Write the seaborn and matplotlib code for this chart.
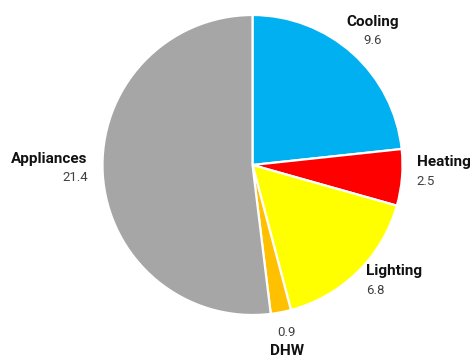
import numpy as np
import matplotlib
matplotlib.use("Agg")
import matplotlib.pyplot as plt
import seaborn as sns

# Annual end-use breakdown
categories = ["Cooling", "Heating", "Lighting", "DHW", "Appliances"]
values = [9.6, 2.5, 6.8, 0.9, 21.4]
value_labels = ["9.6", "2.5", "6.8", "0.9", "21.4"]
colors = ["#00B0F0", "#FF0000", "#FFFF00", "#FFC000", "#A6A6A6"]

sns.set_theme(style="white")
plt.rcParams["font.family"] = ["Roboto", "DejaVu Sans"]

fig = plt.figure(figsize=(4.73, 3.6), dpi=100)
# pie centred at (252.5, 165) px with radius 150 px
cx, cy, r = 252.5, 165.0, 150.0
W, H = 473.0, 360.0
ax = fig.add_axes([(cx - r) / W, (H - cy - r) / H, 2 * r / W, 2 * r / H])

wedges, _ = ax.pie(
    values,
    colors=colors,
    startangle=90,
    counterclock=False,
    radius=1.0,
    wedgeprops=dict(edgecolor="white", linewidth=1.6),
)
ax.set_xlim(-1, 1)
ax.set_ylim(-1, 1)
ax.set_aspect("equal")
ax.axis("off")

# label placement: radial distance, horizontal alignment, value above name?, vertical nudge
layout = {
    "Cooling": (1.2, "center", False, 0.0),
    "Heating": (1.1, "left", False, 0.045),
    "Lighting": (1.08, "left", False, 0.0),
    "DHW": (1.2, "center", True, 0.0),
    "Appliances": (1.1, "right", False, 0.045),
}

line = 0.064  # half spacing between the two lines, data units
for w, name, vlab in zip(wedges, categories, value_labels):
    ang = np.deg2rad((w.theta1 + w.theta2) / 2)
    rad, ha, value_first, nudge = layout[name]
    x, y = rad * np.cos(ang), rad * np.sin(ang) + nudge
    yn, yv = (y - line, y + line) if value_first else (y + line, y - line)
    ax.text(x, yn, name, ha=ha, va="center", fontsize=11,
            fontweight="semibold", color="#111111", clip_on=False)
    ax.text(x, yv, vlab, ha=ha, va="center", fontsize=9.5,
            color="#404040", clip_on=False)

fig.savefig("out.png", dpi=100)
